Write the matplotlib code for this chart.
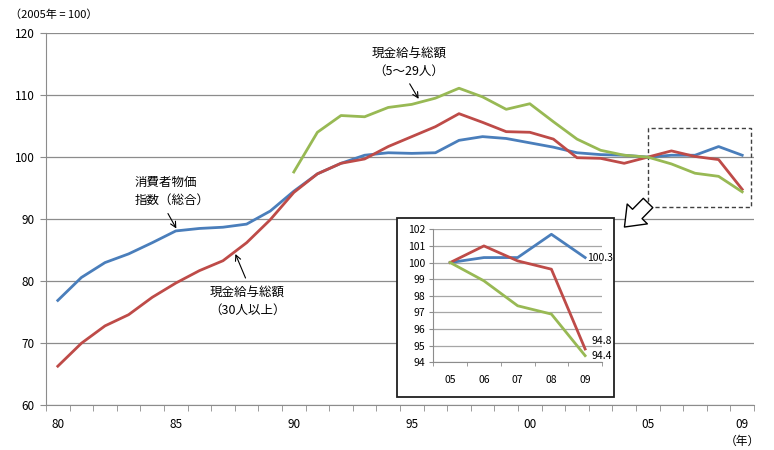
import matplotlib
matplotlib.use('Agg')
from matplotlib import pyplot as plt
from matplotlib.patches import Rectangle, FancyArrowPatch
import numpy as np

plt.rcParams['font.family'] = ['Noto Sans CJK JP', 'DejaVu Sans']

years = list(range(1980, 2010))
year_labels = {1980: '80', 1985: '85', 1990: '90', 1995: '95', 2000: '00', 2005: '05', 2009: '09'}

cpi = [76.9, 80.6, 83.0, 84.4, 86.2, 88.1, 88.5, 88.7, 89.2, 91.3,
       94.5, 97.3, 99.0, 100.3, 100.7, 100.6, 100.7, 102.7, 103.3, 103.0,
       102.3, 101.6, 100.7, 100.4, 100.3, 100.0, 100.3, 100.3, 101.7, 100.3]
wage_30 = [66.3, 70.0, 72.8, 74.6, 77.4, 79.7, 81.7, 83.3, 86.2, 89.9,
           94.3, 97.3, 99.0, 99.7, 101.7, 103.3, 104.9, 107.0, 105.6, 104.1,
           104.0, 102.9, 99.9, 99.8, 99.0, 100.0, 101.0, 100.1, 99.6, 94.8]
# 5-29 series starts in 1990
wage_5_29 = [np.nan] * 10 + [97.6, 104.0, 106.7, 106.5, 108.0, 108.5, 109.5, 111.1, 109.7, 107.7,
                             108.6, 105.7, 102.9, 101.1, 100.3, 100.0, 98.9, 97.4, 96.9, 94.4]

inset_labels = ['05', '06', '07', '08', '09']

blue = '#4a7ebb'
red = '#be4b48'
green = '#98b954'
grid_c = '#8c8c8c'

W, H = 774, 450
fig = plt.figure(figsize=(W / 100, H / 100), dpi=100)

def fbox(x0, y0, x1, y1):
    # image pixel box -> figure fraction [left, bottom, width, height]
    return [x0 / W, 1 - y1 / H, (x1 - x0) / W, (y1 - y0) / H]

ax = fig.add_axes(fbox(46, 33, 754, 405.3))
x = np.arange(len(years))
ax.plot(x, cpi, color=blue, lw=2)
ax.plot(x, wage_30, color=red, lw=2)
ax.plot(x, wage_5_29, color=green, lw=2)

ax.set_xlim(-0.5, len(years) - 0.5)
ax.set_ylim(60, 120)
ax.set_yticks(range(60, 121, 10))
ax.yaxis.grid(True, color=grid_c, lw=0.9)
ax.set_axisbelow(True)
tick_pos = [years.index(y) for y in year_labels]
ax.set_xticks(tick_pos)
ax.set_xticklabels(list(year_labels.values()))
ax.set_xticks(np.arange(-0.5, len(years)), minor=True)
ax.tick_params(axis='x', which='major', length=0, pad=9, labelsize=8.5)
ax.tick_params(axis='x', which='minor', length=4, color=grid_c)
ax.tick_params(axis='y', length=4, color=grid_c, labelsize=8.5, pad=4)
for s in ['top', 'right']:
    ax.spines[s].set_visible(False)
ax.spines['left'].set_color(grid_c)
ax.spines['bottom'].set_color(grid_c)

# labels with arrows
ax.text(3.27, 94.5, '消費者物価\n指数（総合）', fontsize=9, ha='left', va='center', linespacing=1.5)
ax.annotate('', xy=(5.08, 88.1), xytext=(4.61, 91.3),
            arrowprops=dict(arrowstyle='->', color='black', lw=0.8))
ax.text(8.04, 76.8, '現金給与総額\n（30人以上）', fontsize=9, ha='center', va='center',
        multialignment='center', linespacing=1.5)
ax.annotate('', xy=(7.48, 84.8), xytext=(8.0, 80.1),
            arrowprops=dict(arrowstyle='->', color='black', lw=0.8))
ax.text(14.87, 115.3, '現金給与総額\n（5～29人）', fontsize=9, ha='center', va='center',
        multialignment='center', linespacing=1.5)
ax.annotate('', xy=(15.35, 109.0), xytext=(14.85, 112.2),
            arrowprops=dict(arrowstyle='->', color='black', lw=0.8))

# dashed box around 2005-2009
ax.add_patch(Rectangle((25.0, 92.0), 4.39, 12.7, fill=False, ls=(0, (3, 2)),
                       ec='#404040', lw=1.0, clip_on=False))

fig.text(10 / W, 1 - 15 / H, '（2005年 = 100）', fontsize=8, va='center', ha='left')
fig.text(742 / W, 1 - 441 / H, '（年）', fontsize=8.5, va='center', ha='center')

# hollow arrow from dashed box to inset
arr = FancyArrowPatch((650 / W, 1 - 201 / H), (622.5 / W, 1 - 229 / H),
                      transform=fig.transFigure,
                      arrowstyle='simple,head_width=1.7,head_length=1.1,tail_width=0.8',
                      mutation_scale=12, fc='white', ec='black', lw=1.0, zorder=3)
fig.add_artist(arr)

# inset frame
frame = Rectangle((396.7 / W, 1 - 396.7 / H), (614 - 396.7) / W, (396.7 - 218.3) / H,
                  transform=fig.transFigure, fc='white', ec='#202020', lw=1.3, zorder=1)
fig.add_artist(frame)

ins = fig.add_axes(fbox(433.3, 229.3, 602, 362.3), zorder=2)
xi = np.arange(len(inset_labels))
ins.plot(xi, cpi[-5:], color=blue, lw=2)
ins.plot(xi, wage_30[-5:], color=red, lw=2)
ins.plot(xi, wage_5_29[-5:], color=green, lw=2)
ins.set_xlim(-0.5, 4.5)
ins.set_ylim(94, 102)
ins.set_yticks(range(94, 103))
ins.yaxis.grid(True, color='#a6a6a6', lw=0.9)
ins.set_axisbelow(True)
ins.set_xticks(xi)
ins.set_xticklabels(inset_labels)
ins.set_xticks(np.arange(-0.5, 5), minor=True)
ins.tick_params(axis='x', which='major', length=0, pad=9, labelsize=7.5)
ins.tick_params(axis='x', which='minor', length=3, color=grid_c)
ins.tick_params(axis='y', length=3, color=grid_c, labelsize=7.5, pad=3)
for s in ['top', 'right']:
    ins.spines[s].set_visible(False)
ins.spines['left'].set_color(grid_c)
ins.spines['bottom'].set_color(grid_c)
ins.text(4.05, cpi[-1], '%.1f' % cpi[-1], fontsize=7.5, va='center', ha='left')
ins.text(4.2, wage_30[-1] + 0.5, '%.1f' % wage_30[-1], fontsize=7.5, va='center', ha='left')
ins.text(4.2, wage_5_29[-1], '%.1f' % wage_5_29[-1], fontsize=7.5, va='center', ha='left')

fig.savefig('out.png', dpi=100)
